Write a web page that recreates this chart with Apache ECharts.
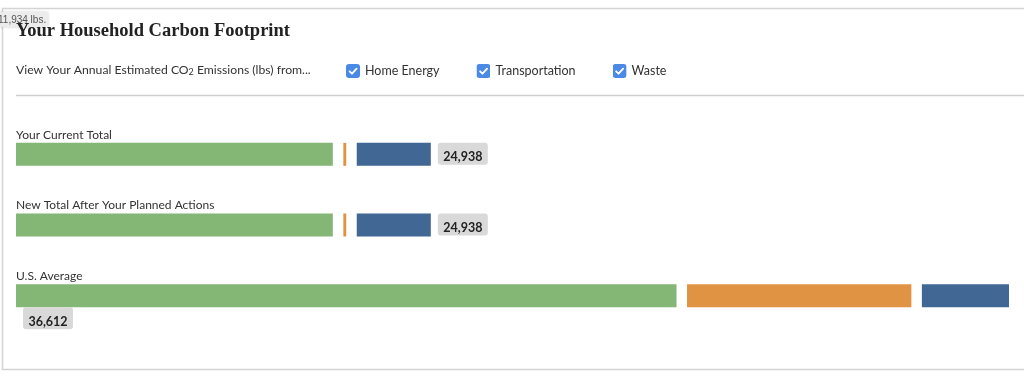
<!DOCTYPE html>
<html>
<head>
<meta charset="utf-8">
<script src="https://cdn.jsdelivr.net/npm/echarts@6/dist/echarts.min.js"></script>
<style>
  html, body { margin: 0; padding: 0; background: #fff; }
  #main { width: 1024px; height: 378px; }
</style>
</head>
<body>
<div id="main"></div>
<script>
var rows = ['Your Current Total', 'New Total After Your Planned Actions', 'U.S. Average'];
var sources = ['Home Energy', 'Transportation', 'Waste'];
var homeEnergy = [11934, 11934, 24880];
var transportation = [110, 110, 8450];
var waste = [2790, 2790, 3282];
var totals = ['24,938', '24,938', '36,612'];
var hoverNote = '11,934 lbs.';

var colors = ['#84b675', '#e09443', '#416795'];
var values = [homeEnergy, transportation, waste];
var gap = 10.5;
var barH = 23;
var sans = 'Lato, "Open Sans", sans-serif';

var checkSvg = "<svg xmlns='http://www.w3.org/2000/svg' width='14' height='14'>" +
  "<rect width='14' height='14' rx='3' fill='#4a89e6'/>" +
  "<path d='M3.6 7.3 L6 9.7 L10.6 4.6' stroke='#fff' stroke-width='1.8' fill='none' stroke-linecap='round' stroke-linejoin='round'/></svg>";
var checkIcon = 'image://data:image/svg+xml;charset=utf-8,' + encodeURIComponent(checkSvg);

var chart = echarts.init(document.getElementById('main'));

function segmentSeries(k) {
  return {
    name: sources[k],
    type: 'custom',
    itemStyle: { color: colors[k] },
    data: values[k].map(function (v, i) { return [v, i]; }),
    renderItem: function (params, api) {
      var row = api.value(1);
      var start = 0;
      for (var j = 0; j < k; j++) start += values[j][row];
      var a = api.coord([start, row]);
      var b = api.coord([start + api.value(0), row]);
      return {
        type: 'rect',
        shape: { x: a[0] + k * gap, y: a[1] - barH / 2, width: b[0] - a[0], height: barH },
        style: { fill: colors[k] }
      };
    }
  };
}

var labelSeries = {
  name: 'labels',
  type: 'custom',
  silent: true,
  data: rows.map(function (r, i) { return [0, i]; }),
  renderItem: function (params, api) {
    var row = api.value(1);
    var sum = 0;
    for (var j = 0; j < values.length; j++) sum += values[j][row];
    var left = api.coord([0, row]);
    var end = api.coord([sum, row])[0] + (values.length - 1) * gap;
    var boxW = 50, boxH = 22;
    var bx, by;
    if (end + 7 + boxW > api.getWidth() - 10) {
      bx = left[0] + 7; by = left[1] + barH / 2;
    } else {
      bx = end + 7; by = left[1] - barH / 2;
    }
    return {
      type: 'group',
      children: [
        {
          type: 'text',
          style: {
            text: rows[row], x: left[0], y: left[1] - barH / 2 - 2,
            textVerticalAlign: 'bottom', fill: '#333', font: '12px ' + sans
          }
        },
        {
          type: 'rect',
          shape: { x: bx, y: by, width: boxW, height: boxH, r: 3 },
          style: { fill: '#d9d9d9' }
        },
        {
          type: 'text',
          style: {
            text: totals[row], x: bx + boxW / 2, y: by + boxH - 1,
            textAlign: 'center', textVerticalAlign: 'bottom',
            fill: '#222', font: 'bold 12.5px ' + sans
          }
        }
      ]
    };
  }
};

var option = {
  animation: false,
  title: {
    text: 'Your Household Carbon Footprint',
    left: 16,
    top: 22,
    padding: 0,
    textStyle: { fontFamily: '"Liberation Serif", serif', fontWeight: 'bold', fontSize: 18.5, color: '#222' }
  },
  legend: {
    data: sources.map(function (s) { return { name: s, icon: checkIcon }; }),
    left: 346,
    top: 64,
    padding: 0,
    itemWidth: 14,
    itemHeight: 14,
    itemGap: 37,
    selectedMode: false,
    textStyle: { fontFamily: sans, fontSize: 12.5, color: '#333' }
  },
  grid: { left: 16, right: 36, top: 119, height: 212 },
  xAxis: { type: 'value', min: 0, max: 36612, show: false },
  yAxis: { type: 'category', data: rows, inverse: true, show: false },
  graphic: [
    {
      type: 'rect', silent: true,
      shape: { x: 2.5, y: 8.5, width: 1100, height: 361 },
      style: { fill: 'none', stroke: '#d4d4d4', lineWidth: 1.5 }
    },
    {
      type: 'line', silent: true,
      shape: { x1: 16, y1: 95.5, x2: 1024, y2: 95.5 },
      style: { stroke: '#cfcfcf', lineWidth: 1.5 }
    },
    {
      type: 'text', left: 16, top: 64,
      style: {
        text: 'View Your Annual Estimated CO{sub|2} Emissions (lbs) from...',
        fill: '#333', font: '12.2px ' + sans,
        rich: { sub: { fontSize: 9, verticalAlign: 'bottom', padding: [5, 0, 0, 0], fontFamily: sans, fill: '#333' } }
      }
    },
    {
      type: 'group', left: -3, top: 12,
      children: [
        {
          type: 'rect', shape: { x: 0, y: 0, width: 51, height: 15, r: 2 },
          style: { fill: '#ececec', shadowBlur: 3, shadowColor: 'rgba(0,0,0,0.2)' }
        },
        {
          type: 'text',
          style: { text: hoverNote, x: 1, y: 8, textVerticalAlign: 'middle', fill: '#555', font: '10px "Liberation Sans", sans-serif' }
        }
      ]
    }
  ],
  series: [segmentSeries(0), segmentSeries(1), segmentSeries(2), labelSeries]
};

chart.setOption(option);
</script>
</body>
</html>
